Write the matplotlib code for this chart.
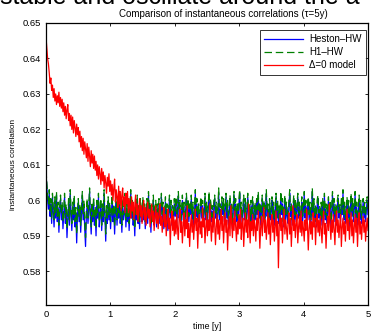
import numpy as np
import matplotlib
matplotlib.use("Agg")
import matplotlib.pyplot as plt

plt.rcParams['font.family'] = ['Liberation Sans', 'DejaVu Sans']

# instantaneous correlation values, units of 1e-4
heston_hw = [
    6075, 6040, 6000, 5975, 6020, 5955, 5990, 5935, 6010, 5965, 5925, 5995, 5950, 6015, 5940, 5980, 5910, 5970, 6005, 5945,
    5985, 5920, 5960, 6010, 5935, 5975, 5895, 5950, 5990, 5930, 6020, 5960, 5915, 5980, 5945, 6005, 5925, 5965, 5880, 5955,
    5995, 5940, 5975, 5910, 5960, 6015, 5945, 5985, 5920, 5870, 5955, 5990, 5935, 5970, 6025, 5950, 5905, 5980, 5940, 5995,
    5930, 5965, 5900, 5985, 5950, 6010, 5925, 5960, 5990, 5915, 5975, 5940, 6020, 5955, 5885, 5970, 5935, 6000, 5945, 5980,
    5920, 5960, 6005, 5940, 5975, 5905, 5965, 5995, 5930, 5985, 5950, 6015, 5935, 5970, 5910, 5990, 5945, 5960, 6010, 5925,
    5975, 5940, 5995, 5915, 5965, 6020, 5950, 5985, 5930, 5960, 5900, 5980, 5945, 6005, 5935, 5970, 5920, 5990, 5955, 5940,
    6000, 5945, 5975, 5920, 5965, 5990, 5935, 6015, 5955, 5980, 5910, 5970, 5945, 6000, 5930, 5965, 5985, 5925, 5975, 5950,
    5990, 5935, 5970, 6010, 5945, 5980, 5920, 5960, 5995, 5940, 5975, 5915, 5965, 6005, 5950, 5985, 5930, 5970, 5945, 5990,
    5955, 5995, 5935, 5975, 6015, 5950, 5985, 5925, 5965, 6000, 5945, 5980, 5930, 5970, 6010, 5955, 5990, 5940, 5975, 5960,
    6005, 5945, 5980, 5930, 5965, 6020, 5955, 5990, 5940, 5975, 5925, 5970, 6000, 5950, 5985, 5935, 5965, 6010, 5945, 5980,
    5935, 5975, 6015, 5955, 5990, 5940, 5970, 5925, 5985, 6005, 5950, 5980, 5930, 5965, 6020, 5945, 5975, 5935, 5995, 5960,
    5990, 5940, 5975, 6010, 5950, 5985, 5930, 5965, 6000, 5945, 5980, 5920, 5970, 6015, 5955, 5990, 5940, 5975, 5935, 5985,
    6020, 5955, 5980, 5935, 5970, 6005, 5945, 5990, 5930, 5965, 6010, 5950, 5975, 5925, 5985, 5940, 6000, 5960, 5935, 5980,
    5945, 5995, 5960, 6015, 5950, 5980, 5930, 5970, 6005, 5940, 5985, 5935, 5965, 6020, 5955, 5975, 5925, 5990, 5945, 5970,
    6000, 5940, 5980, 5930, 5965, 6010, 5950, 5985, 5935, 5975, 5945, 6015, 5960, 5990, 5925, 5970, 6005, 5945, 5980, 5955,
    5935, 5985, 6020, 5955, 5975, 5930, 5965, 6005, 5945, 5990, 5940, 5970, 6010, 5950, 5980, 5920, 5965, 5995, 5940, 5975,
    6015, 5950, 5985, 5935, 5970, 6000, 5945, 5980, 5930, 5965, 6025, 5955, 5990, 5940, 5975, 5925, 5985, 6005, 5950, 5970,
    5940, 5980, 5930, 5995, 5955, 6010, 5945, 5975, 5935, 5970, 6000, 5950, 5985, 5925, 5965, 6015, 5955, 5990, 5940, 5975,
    5930, 5985, 6005, 5950, 5975, 5940, 5990, 5960, 6020, 5945, 5980, 5935, 5970, 6000, 5950, 5985, 5925, 5965, 6010, 5955,
    5990, 5940, 5975, 6015, 5950, 5980, 5930, 5970, 6005, 5945, 5985, 5935, 5965, 5995, 5950, 5980, 5940, 5975, 6000, 5960,
]
h1_hw = [
    6085, 6050, 6015, 5990, 6030, 5970, 6005, 5950, 6020, 5980, 5945, 6010, 5965, 6025, 5955, 5995, 5930, 5985, 6015, 5960,
    5995, 5940, 5975, 6020, 5950, 5990, 5920, 5965, 6005, 5945, 6030, 5975, 5935, 5995, 5960, 6015, 5940, 5980, 5905, 5970,
    6005, 5955, 5990, 5930, 5975, 6025, 5960, 6000, 5940, 5895, 5970, 6005, 5950, 5985, 6035, 5965, 5925, 5995, 5955, 6010,
    5945, 5980, 5920, 6000, 5965, 6020, 5940, 5975, 6005, 5930, 5990, 5955, 6030, 5970, 5905, 5985, 5950, 6010, 5960, 5995,
    5940, 5975, 6015, 5955, 5990, 5925, 5980, 6010, 5945, 6000, 5965, 6025, 5950, 5985, 5930, 6005, 5960, 5975, 6020, 5945,
    5990, 5955, 6010, 5935, 5980, 6030, 5965, 6000, 5945, 5975, 5920, 5995, 5960, 6015, 5950, 5985, 5940, 6005, 5970, 5955,
    6010, 5960, 5990, 5940, 5980, 6005, 5950, 6025, 5970, 5995, 5930, 5985, 5960, 6015, 5945, 5980, 6000, 5940, 5990, 5965,
    6005, 5950, 5985, 6020, 5960, 5995, 5940, 5975, 6010, 5955, 5990, 5935, 5980, 6015, 5965, 6000, 5945, 5985, 5960, 6005,
    5970, 6010, 5950, 5990, 6025, 5965, 6000, 5940, 5980, 6015, 5960, 5995, 5945, 5985, 6020, 5970, 6005, 5955, 5990, 5975,
    6015, 5960, 5995, 5945, 5980, 6030, 5970, 6005, 5955, 5990, 5940, 5985, 6010, 5965, 6000, 5950, 5980, 6020, 5960, 5995,
    5950, 5990, 6025, 5970, 6005, 5955, 5985, 5940, 6000, 6015, 5965, 5995, 5945, 5980, 6035, 5960, 5990, 5950, 6010, 5975,
    6005, 5955, 5990, 6020, 5965, 6000, 5945, 5980, 6015, 5960, 5995, 5935, 5985, 6025, 5970, 6005, 5955, 5990, 5950, 6000,
    6030, 5970, 5995, 5950, 5985, 6015, 5960, 6005, 5945, 5980, 6020, 5965, 5990, 5940, 6000, 5955, 6010, 5975, 5950, 5995,
    5960, 6005, 5975, 6025, 5965, 5995, 5945, 5985, 6015, 5955, 6000, 5950, 5980, 6030, 5970, 5990, 5940, 6005, 5960, 5985,
    6010, 5955, 5995, 5945, 5980, 6020, 5965, 6000, 5950, 5990, 5960, 6025, 5975, 6005, 5940, 5985, 6015, 5960, 5995, 5970,
    5950, 6000, 6030, 5970, 5990, 5945, 5980, 6015, 5960, 6005, 5955, 5985, 6020, 5965, 5995, 5935, 5980, 6010, 5955, 5990,
    6025, 5965, 6000, 5950, 5985, 6010, 5960, 5995, 5945, 5980, 6035, 5970, 6005, 5955, 5990, 5940, 6000, 6015, 5965, 5985,
    5955, 5995, 5945, 6005, 5970, 6020, 5960, 5990, 5950, 5985, 6010, 5965, 6000, 5940, 5980, 6025, 5970, 6005, 5955, 5990,
    5945, 6000, 6015, 5965, 5990, 5955, 6005, 5975, 6030, 5960, 5995, 5950, 5985, 6010, 5965, 6000, 5940, 5980, 6020, 5970,
    6005, 5955, 5990, 6025, 5965, 5995, 5945, 5985, 6015, 5960, 6000, 5950, 5980, 6005, 5965, 5995, 5955, 5990, 6010, 5975,
]
delta0_model = [
    6460, 6430, 6400, 6385, 6360, 6330, 6345, 6310, 6325, 6290, 6315, 6280, 6300, 6270, 6295, 6275, 6305, 6265, 6290, 6260,
    6285, 6250, 6275, 6240, 6265, 6230, 6255, 6270, 6225, 6245, 6210, 6240, 6200, 6235, 6190, 6225, 6205, 6180, 6215, 6185,
    6205, 6165, 6195, 6150, 6180, 6140, 6175, 6130, 6165, 6145, 6120, 6160, 6110, 6150, 6125, 6095, 6140, 6105, 6130, 6090,
    6125, 6085, 6110, 6070, 6100, 6060, 6095, 6075, 6045, 6090, 6055, 6080, 6035, 6070, 6050, 6020, 6065, 6040, 6075, 6025,
    6055, 6015, 6045, 6000, 6035, 6060, 5995, 6030, 6010, 5980, 6040, 5990, 6025, 5970, 6015, 6035, 5985, 6010, 5965, 6020,
    5990, 6025, 5965, 6005, 5980, 5950, 6010, 5970, 5995, 5945, 5985, 6015, 5960, 5990, 5940, 5975, 6005, 5955, 5985, 5935,
    5970, 6000, 5945, 5980, 5930, 5965, 5995, 5950, 5975, 5925, 5960, 5990, 5940, 5970, 5915, 5955, 5985, 5935, 5965, 5920,
    5960, 5990, 5930, 5955, 5910, 5950, 5980, 5925, 5960, 5900, 5945, 5975, 5920, 5950, 5875, 5940, 5970, 5915, 5955, 5900,
    5945, 5905, 5960, 5920, 5890, 5950, 5975, 5910, 5940, 5880, 5930, 5965, 5900, 5945, 5920, 5985, 5895, 5935, 5870, 5925,
    5960, 5910, 5945, 5890, 5935, 5975, 5915, 5950, 5865, 5930, 5960, 5905, 5940, 5895, 5980, 5925, 5950, 5880, 5920, 5965,
    5900, 5945, 5915, 5990, 5930, 5885, 5950, 5910, 5970, 5935, 5875, 5925, 5960, 5905, 5945, 5890, 5935, 5975, 5915, 5955,
    5880, 5930, 5965, 5910, 5945, 5860, 5920, 5955, 5900, 5985, 5935, 5895, 5950, 5915, 5970, 5925, 5885, 5940, 5905, 5960,
    5920, 5975, 5890, 5935, 5950, 5870, 5925, 5965, 5910, 5945, 5895, 5990, 5930, 5880, 5940, 5915, 5960, 5900, 5945, 5925,
    5885, 5950, 5915, 5970, 5935, 5865, 5925, 5955, 5900, 5940, 5980, 5910, 5945, 5890, 5930, 5965, 5905, 5950, 5875, 5935,
    5960, 5910, 5945, 5885, 5930, 5970, 5900, 5940, 5810, 5925, 5960, 5915, 5950, 5880, 5935, 5975, 5905, 5945, 5920, 5890,
    5940, 5965, 5905, 5950, 5870, 5930, 5985, 5915, 5945, 5895, 5935, 5960, 5880, 5925, 5955, 5910, 5970, 5900, 5940, 5920,
    5885, 5945, 5915, 5975, 5930, 5860, 5920, 5950, 5905, 5940, 5890, 5965, 5925, 5950, 5875, 5935, 5960, 5910, 5945, 5900,
    5955, 5920, 5880, 5940, 5970, 5905, 5935, 5865, 5925, 5955, 5915, 5990, 5930, 5890, 5945, 5910, 5960, 5920, 5875, 5940,
    5970, 5910, 5945, 5895, 5930, 5960, 5870, 5925, 5950, 5905, 5940, 5885, 5935, 5975, 5915, 5945, 5890, 5930, 5965, 5900,
    5945, 5880, 5925, 5960, 5910, 5950, 5870, 5935, 5965, 5905, 5940, 5890, 5930, 5955, 5910, 5945, 5885, 5925, 5950, 5915,
]
series_labels = ['Heston\u2013HW', 'H1\u2013HW', '\u0394=0 model']
xticks = [0, 1, 2, 3, 4, 5]
yticks = [0.58, 0.59, 0.60, 0.61, 0.62, 0.63, 0.64, 0.65]
ytick_labels = ['0.58', '0.59', '0.6', '0.61', '0.62', '0.63', '0.64', '0.65']

t = np.linspace(0, 5, len(heston_hw))
scale = 1e-4

fig = plt.figure(figsize=(3.71, 3.32), dpi=100)
ax = fig.add_axes([46/371, 1-305/332, (368-46)/371, (305-23)/332])

lw = 0.9
ax.plot(t, np.array(heston_hw)*scale, color=(0, 0, 1), lw=lw, label=series_labels[0])
ax.plot(t, np.array(h1_hw)*scale, color=(0, 0.5, 0), lw=lw, ls=(0, (6, 3)), label=series_labels[1])
ax.plot(t, np.array(delta0_model)*scale, color=(1, 0, 0), lw=lw, label=series_labels[2])

ax.set_xlim(0, 5)
ax.set_ylim(0.5705, 0.65)
ax.set_xticks(xticks)
ax.set_yticks(yticks)
ax.set_yticklabels(ytick_labels)
ax.tick_params(direction='in', top=True, right=True, length=2.5, width=0.6, labelsize=6.8, pad=3.5)
for s in ax.spines.values():
    s.set_linewidth(0.9)

ax.set_title('Comparison of instantaneous correlations (\u03c4=5y)', fontsize=7, pad=4.5, x=0.551)
ax.set_ylabel('instantaneous correlation', fontsize=5.9, labelpad=4)
ax.set_xlabel('time [y]', fontsize=6.3, labelpad=2)

leg = ax.legend(loc='upper right', bbox_to_anchor=(366/371, 1-30/332), bbox_transform=fig.transFigure,
                fontsize=7, frameon=True, fancybox=False, edgecolor='black', borderpad=0.45,
                handlelength=4.0, labelspacing=0.3, borderaxespad=0, handletextpad=0.6)
leg.get_frame().set_linewidth(0.7)
for line in leg.get_lines():
    line.set_linewidth(0.9)

fig.text(0.0, 1-4.5/332, 'stable and oscillate around the a', fontsize=18, va='baseline', ha='left')

fig.savefig('out.png', dpi=100)
